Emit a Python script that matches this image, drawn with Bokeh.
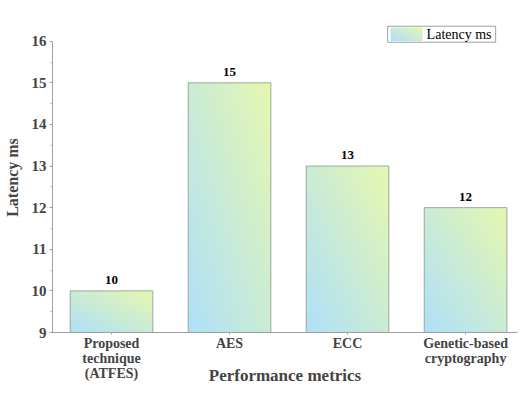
import numpy as np
from bokeh.plotting import figure
from bokeh.models import Range1d, FixedTicker
from bokeh.core.properties import value
from bokeh.embed import file_html
from bokeh.resources import INLINE

# Latency per technique
categories = ["Proposed\ntechnique\n(ATFES)", "AES", "ECC", "Genetic-based\ncryptography"]
latency_ms = [10, 15, 13, 12]
y_ticks = [9, 10, 11, 12, 13, 14, 15, 16]
series_name = "Latency ms"
x_title = "Performance metrics"

FONT = "Liberation Serif"
SERIF = value(FONT)
BASE = y_ticks[0]
BAR_W = 0.7
xs = [i + 0.5 for i in range(len(categories))]


def gradient(n=96, m=64):
    """Diagonal blue -> yellow-green fill, bottom-left to top-right."""
    img = np.empty((n, m), dtype=np.uint32)
    view = img.view(dtype=np.uint8).reshape((n, m, 4))
    u = np.linspace(0, 1, m)[None, :]
    v = np.linspace(0, 1, n)[:, None]
    t = 0.5 * u + 0.5 * v
    c0 = np.array([176, 224, 250], dtype=float)
    c1 = np.array([230, 248, 176], dtype=float)
    rgb = c0 * (1 - t[..., None]) + c1 * t[..., None]
    view[..., :3] = rgb.astype(np.uint8)
    view[..., 3] = 255
    return img


grad = gradient()

p = figure(width=522, height=394, title=None,
           x_range=Range1d(0, 3.94), y_range=Range1d(BASE, 16.45),
           output_backend="svg", toolbar_location=None,
           min_border_left=52, min_border_right=5,
           min_border_top=22, min_border_bottom=62)

p.outline_line_color = None
p.xgrid.visible = False
p.ygrid.visible = False
p.background_fill_color = "white"
p.border_fill_color = "white"

# bars: gradient body + outline
p.image_rgba(image=[grad] * len(xs),
             x=[x - BAR_W / 2 for x in xs], y=[BASE] * len(xs),
             dw=[BAR_W] * len(xs), dh=[v - BASE for v in latency_ms])
p.vbar(x=xs, top=latency_ms, bottom=BASE, width=BAR_W,
       fill_alpha=0, line_color="#9aa99a", line_width=1)

# value labels
p.text(x=xs, y=latency_ms, text=[str(v) for v in latency_ms],
       text_align="center", text_baseline="bottom", y_offset=-7,
       text_font=SERIF, text_font_style="bold", text_font_size="13px",
       text_color="black")

# legend box (top right)
lx0, lx1, ly0, ly1 = 2.84, 3.755, 15.975, 16.36
p.quad(left=[lx0], right=[lx1], bottom=[ly0], top=[ly1],
       fill_color="white", line_color="#a0a0a0", line_width=1)
p.image_rgba(image=[gradient(16, 32)], x=[lx0 + 0.025], y=[ly0 + 0.03],
             dw=[0.27], dh=[ly1 - ly0 - 0.06])
p.text(x=[lx0 + 0.33], y=[(ly0 + ly1) / 2], text=[series_name],
       text_align="left", text_baseline="middle",
       text_font=SERIF, text_font_size="14px", text_color="black")

# y axis
ya = p.yaxis[0]
ya.ticker = FixedTicker(ticks=y_ticks,
                        minor_ticks=[t + 0.5 for t in y_ticks[:-1]])
ya.bounds = (y_ticks[0], y_ticks[-1])
ya.axis_label = series_name
ya.axis_label_text_font = FONT
ya.axis_label_text_font_style = "bold"
ya.axis_label_text_font_size = "16px"
ya.axis_label_standoff = 8
ya.major_label_text_font = FONT
ya.major_label_text_font_style = "bold"
ya.major_label_text_font_size = "15px"
ya.major_label_standoff = 3
ya.axis_line_color = "#a0a0a0"
ya.major_tick_line_color = "#a0a0a0"
ya.minor_tick_line_color = "#b0b0b0"
ya.major_tick_out = 3
ya.major_tick_in = 0
ya.minor_tick_out = 2
ya.minor_tick_in = 0

# x axis
xa = p.xaxis[0]
xa.ticker = FixedTicker(ticks=xs)
xa.major_label_overrides = {x: c for x, c in zip(xs, categories)}
xa.axis_label = x_title
xa.axis_label_text_font = FONT
xa.axis_label_text_font_style = "bold"
xa.axis_label_text_font_size = "17px"
xa.axis_label_standoff = -18
xa.major_label_text_font = FONT
xa.major_label_text_font_style = "bold"
xa.major_label_text_font_size = "14px"
xa.major_label_text_line_height = 1.0
xa.major_label_standoff = 1
xa.axis_line_color = "#a0a0a0"
xa.major_tick_line_color = "#a0a0a0"
xa.major_tick_out = 2
xa.major_tick_in = 0
xa.minor_tick_line_color = None

open("out.html", "w").write(file_html(p, INLINE))
